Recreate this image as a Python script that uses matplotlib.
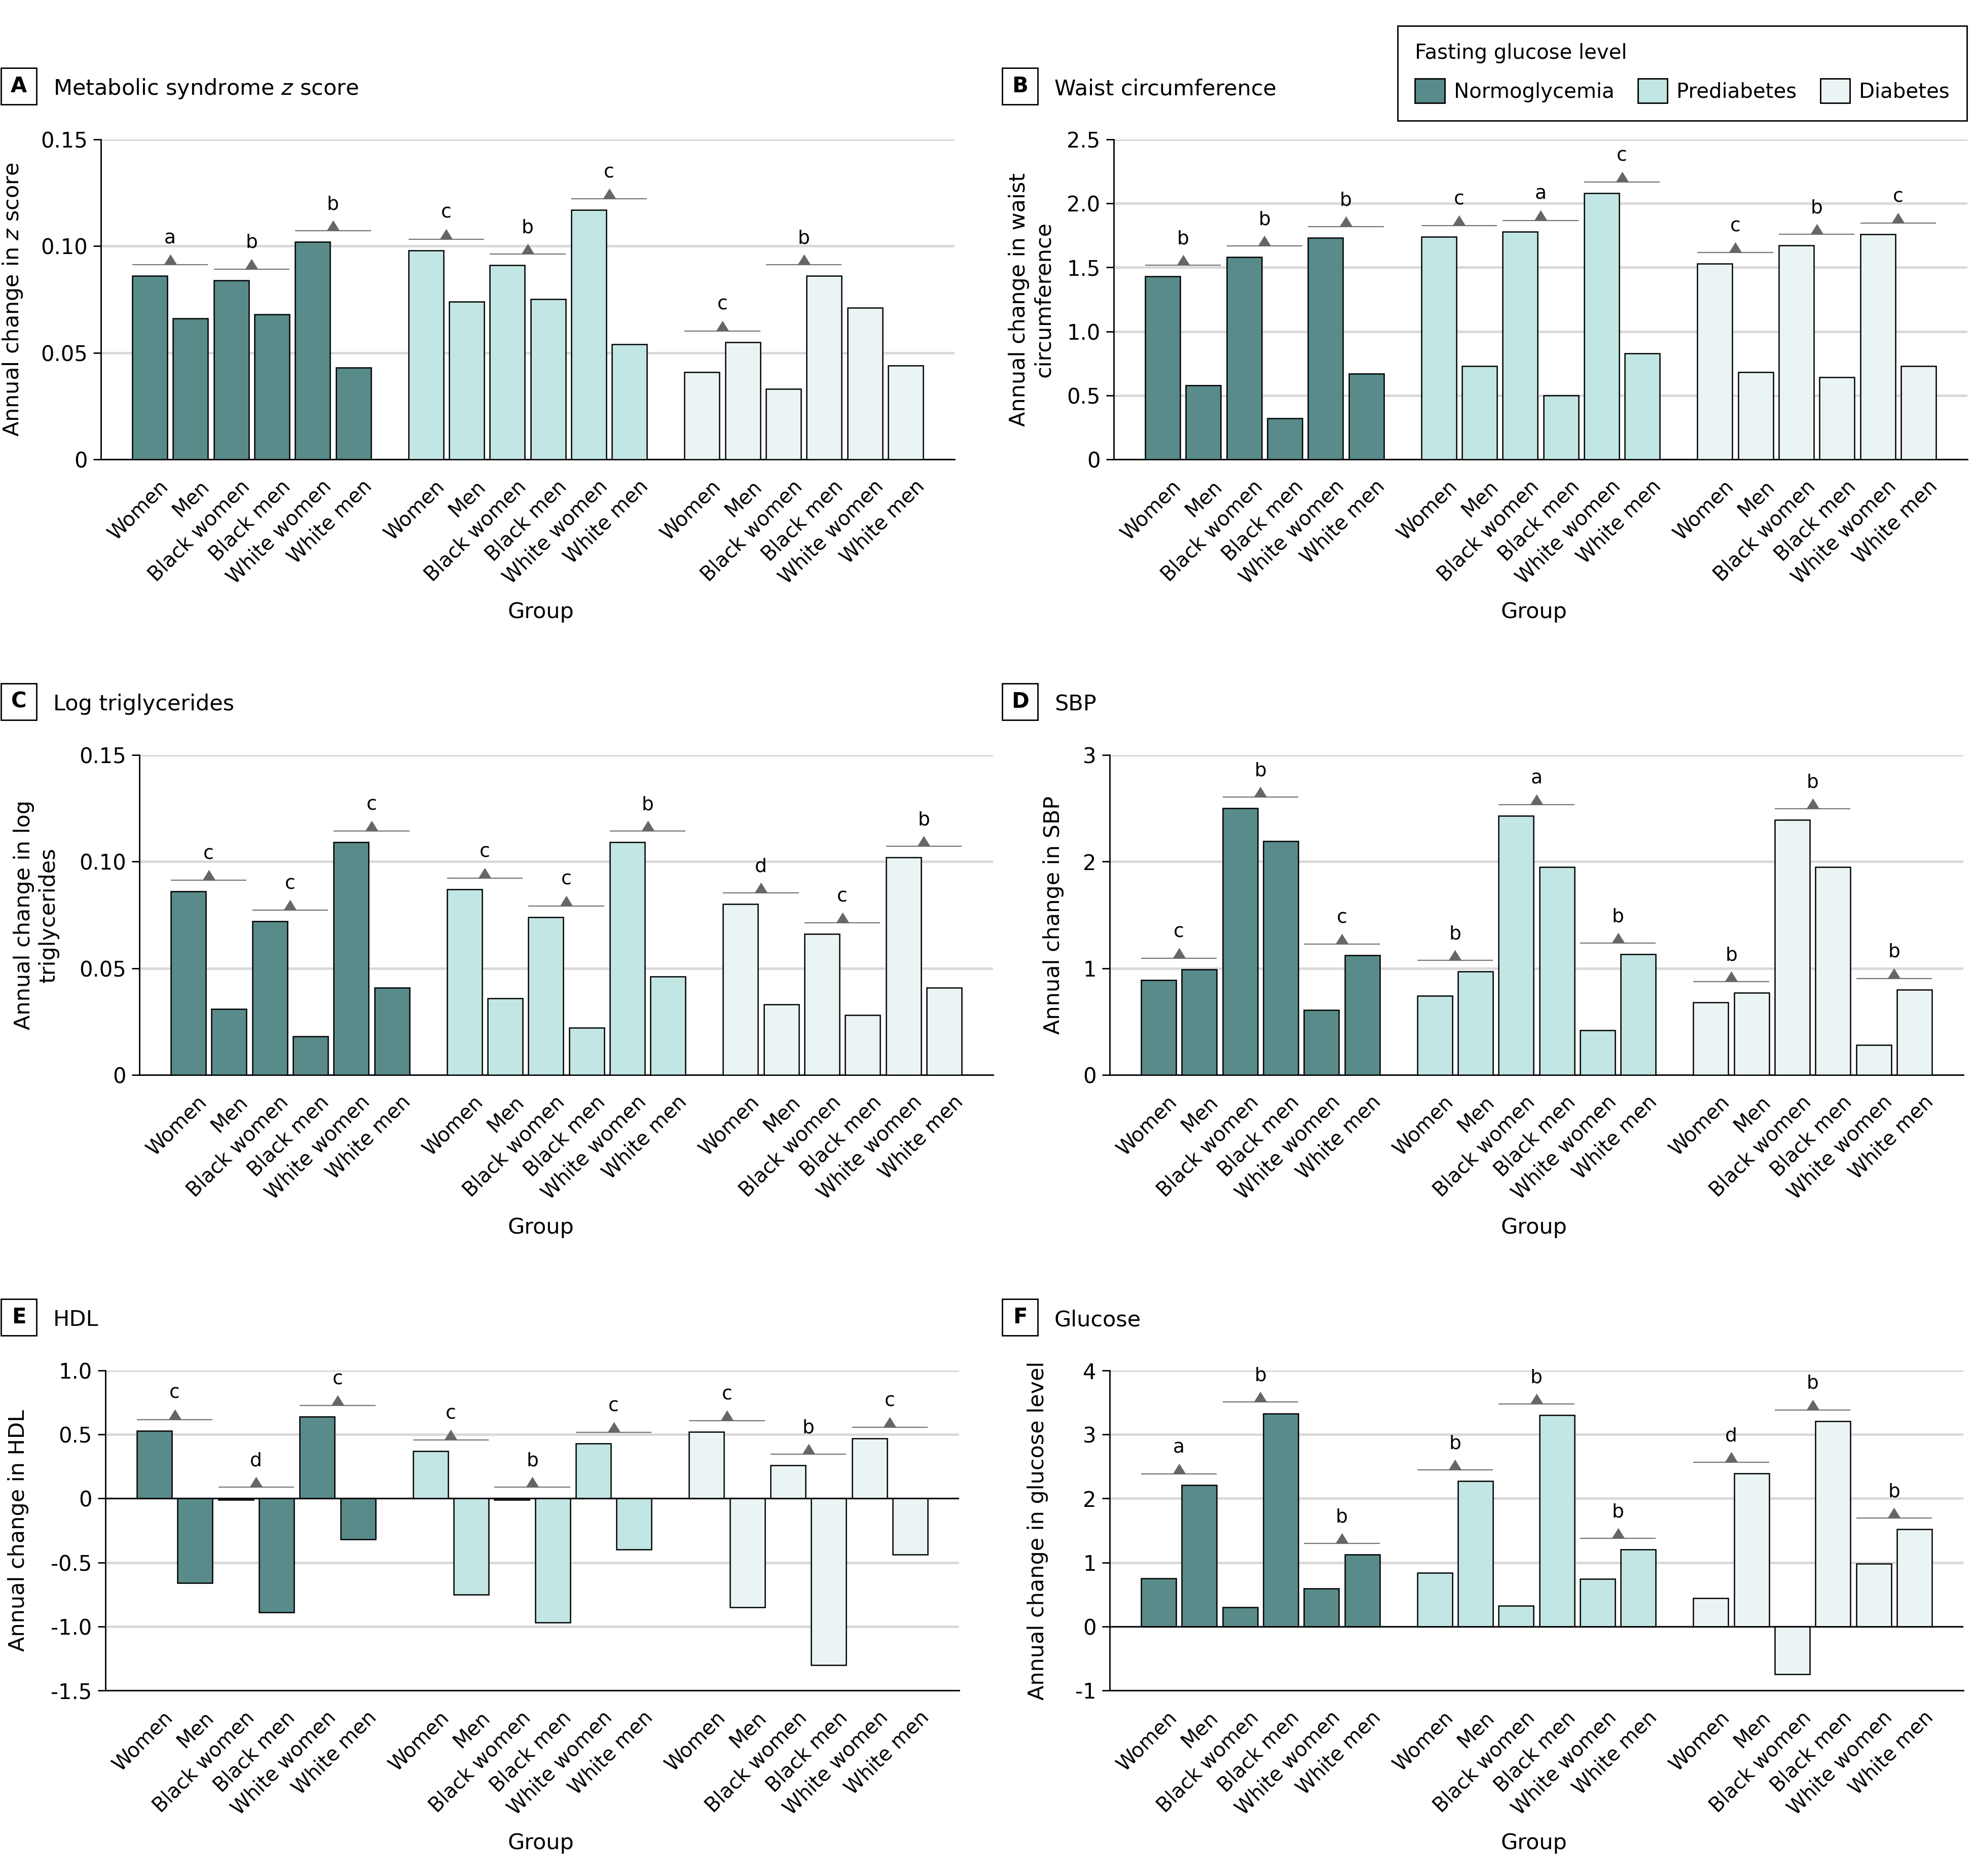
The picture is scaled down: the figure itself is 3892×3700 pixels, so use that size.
import matplotlib
matplotlib.use('Agg')
import matplotlib.pyplot as plt
from matplotlib.patches import Patch, Rectangle
from matplotlib.path import Path
from matplotlib.transforms import ScaledTranslation
import numpy as np

plt.rcParams['font.family'] = ['DejaVu Sans']

groups = ['Women', 'Men', 'Black women', 'Black men', 'White women', 'White men']
levels = ['Normoglycemia', 'Prediabetes', 'Diabetes']
level_colors = ['#588b89', '#c1e6e4', '#eaf4f4']

# annual change, one row per fasting glucose level, one column per group
zscore = [[0.086, 0.066, 0.084, 0.068, 0.102, 0.043],
          [0.098, 0.074, 0.091, 0.075, 0.117, 0.054],
          [0.041, 0.055, 0.033, 0.086, 0.071, 0.044]]
zscore_sig = [['a', 'b', 'b'], ['c', 'b', 'c'], ['c', 'b', None]]
zscore_ticks = [0, 0.05, 0.10, 0.15]
zscore_ticklabels = ['0', '0.05', '0.10', '0.15']

waist = [[1.43, 0.58, 1.58, 0.32, 1.73, 0.67],
         [1.74, 0.73, 1.78, 0.50, 2.08, 0.83],
         [1.53, 0.68, 1.67, 0.64, 1.76, 0.73]]
waist_sig = [['b', 'b', 'b'], ['c', 'a', 'c'], ['c', 'b', 'c']]
waist_ticks = [0, 0.5, 1.0, 1.5, 2.0, 2.5]
waist_ticklabels = ['0', '0.5', '1.0', '1.5', '2.0', '2.5']

logtg = [[0.086, 0.031, 0.072, 0.018, 0.109, 0.041],
         [0.087, 0.036, 0.074, 0.022, 0.109, 0.046],
         [0.080, 0.033, 0.066, 0.028, 0.102, 0.041]]
logtg_sig = [['c', 'c', 'c'], ['c', 'c', 'b'], ['d', 'c', 'b']]
logtg_ticks = [0, 0.05, 0.10, 0.15]
logtg_ticklabels = ['0', '0.05', '0.10', '0.15']

sbp = [[0.89, 0.99, 2.50, 2.19, 0.61, 1.12],
       [0.74, 0.97, 2.43, 1.95, 0.42, 1.13],
       [0.68, 0.77, 2.39, 1.95, 0.28, 0.80]]
sbp_sig = [['c', 'b', 'c'], ['b', 'a', 'b'], ['b', 'b', 'b']]
sbp_ticks = [0, 1, 2, 3]
sbp_ticklabels = ['0', '1', '2', '3']

hdl = [[0.53, -0.66, -0.01, -0.89, 0.64, -0.32],
       [0.37, -0.75, -0.01, -0.97, 0.43, -0.40],
       [0.52, -0.85, 0.26, -1.30, 0.47, -0.44]]
hdl_sig = [['c', 'd', 'c'], ['c', 'b', 'c'], ['c', 'b', 'c']]
hdl_ticks = [-1.5, -1.0, -0.5, 0, 0.5, 1.0]
hdl_ticklabels = ['-1.5', '-1.0', '-0.5', '0', '0.5', '1.0']

glucose = [[0.75, 2.21, 0.30, 3.33, 0.59, 1.12],
           [0.84, 2.27, 0.32, 3.30, 0.74, 1.20],
           [0.44, 2.39, -0.75, 3.21, 0.98, 1.52]]
glucose_sig = [['a', 'b', 'b'], ['b', 'b', 'b'], ['d', 'b', 'b']]
glucose_ticks = [-1, 0, 1, 2, 3, 4]
glucose_ticklabels = ['-1', '0', '1', '2', '3', '4']

W, H = 3892, 3700
AX_W, AX_H = 1684, 631
fig = plt.figure(figsize=(W / 100, H / 100), dpi=100)

stride = len(groups) + 0.78
bar_w = 0.86
tri = Path([(-1.24, 0), (1.24, 0), (0, 2), (-1.24, 0)],
           [Path.MOVETO, Path.LINETO, Path.LINETO, Path.CLOSEPOLY])

# letter, title, ylabel, values, significance, ticks, ticklabels, axes left/top px, ylabel x offset px, row, col
panels = [
    ('A', 'Metabolic syndrome $z$ score', 'Annual change in $z$ score',
     zscore, zscore_sig, zscore_ticks, zscore_ticklabels, 199, 275, -151, 0, 0),
    ('B', 'Waist circumference', 'Annual change in waist\ncircumference',
     waist, waist_sig, waist_ticks, waist_ticklabels, 2197, 275, -117, 0, 1),
    ('C', 'Log triglycerides', 'Annual change in log\ntriglycerides',
     logtg, logtg_sig, logtg_ticks, logtg_ticklabels, 275, 1489, -158, 1, 0),
    ('D', 'SBP', 'Annual change in SBP',
     sbp, sbp_sig, sbp_ticks, sbp_ticklabels, 2189, 1489, -90, 1, 1),
    ('E', 'HDL', 'Annual change in HDL',
     hdl, hdl_sig, hdl_ticks, hdl_ticklabels, 208, 2703, -151, 2, 0),
    ('F', 'Glucose', 'Annual change in glucose level',
     glucose, glucose_sig, glucose_ticks, glucose_ticklabels, 2189, 2703, -121, 2, 1),
]
group_label_x = [1067, 3026]   # figure px, per column

shift = ScaledTranslation(12 / 72, 0, fig.dpi_scale_trans)

for letter, title, ylabel, vals, sig, ticks, ticklabels, left, top, ylab_x, row, col in panels:
    ax = fig.add_axes([left / W, 1 - (top + AX_H) / H, AX_W / W, AX_H / H])
    span = ticks[-1] - ticks[0]
    all_pos = []
    for g, (vrow, color) in enumerate(zip(vals, level_colors)):
        pos = g * stride + np.arange(len(groups))
        ax.bar(pos, vrow, width=bar_w, color=color, edgecolor='black',
               linewidth=1.8, zorder=3)
        all_pos.extend(pos)
        for k, lab in enumerate(sig[g]):
            if lab is None:
                continue
            i0 = 2 * k
            y = max(vrow[i0], vrow[i0 + 1], 0) + 0.035 * span
            ax.plot([pos[i0] - bar_w / 2, pos[i0 + 1] + bar_w / 2], [y, y],
                    color='#777777', lw=1.6, zorder=4, solid_capstyle='butt')
            xc = (pos[i0] + pos[i0 + 1]) / 2
            ax.plot([xc], [y], marker=tri, ms=30, color='#666666',
                    markeredgewidth=0, zorder=5)
            ax.annotate(lab, (xc, y), xytext=(0, 30), textcoords='offset points',
                        ha='center', va='baseline', fontsize=27)

    if ticks[0] < 0:
        ax.axhline(0, color='black', lw=2, zorder=4)

    ax.set_xlim(-1.2, all_pos[-1] + 1.2)
    ax.set_ylim(ticks[0], ticks[-1])
    ax.set_yticks(ticks, ticklabels)
    ax.set_xticks(all_pos, groups * len(levels), rotation=45, ha='right',
                  va='top', rotation_mode='anchor')
    ax.tick_params(axis='y', length=11, width=2, pad=8, labelsize=30)
    ax.tick_params(axis='x', length=0, pad=24, labelsize=28.5)
    for t in ax.get_xticklabels():
        t.set_transform(t.get_transform() + shift)

    ax.yaxis.grid(True, color='#d9d9d9', lw=3.5)
    ax.set_axisbelow(True)
    for s in ['top', 'right']:
        ax.spines[s].set_visible(False)
    for s in ['left', 'bottom']:
        ax.spines[s].set_linewidth(2)

    ax.set_ylabel(ylabel, fontsize=31)
    ax.yaxis.set_label_coords(ylab_x / AX_W, 0.5)
    ax.set_xlabel('Group', fontsize=31)
    ax.xaxis.set_label_coords((group_label_x[col] - left) / AX_W, -280 / AX_H)

    # panel heading: boxed letter + title
    base = row * 1214
    bx = 2 if col == 0 else 1977
    fig.add_artist(Rectangle((bx / W, 1 - (206 + base) / H), 70 / W, 72 / H,
                             transform=fig.transFigure, facecolor='white',
                             edgecolor='black', lw=2))
    fig.text((bx + 35) / W, 1 - (170 + base) / H, letter, ha='center',
             va='center', fontsize=30, fontweight='bold')
    fig.text((bx + 103) / W, 1 - (187 + base) / H, title, ha='left',
             va='baseline', fontsize=31)

handles = [Patch(facecolor=c, edgecolor='black', linewidth=2, label=l)
           for c, l in zip(level_colors, levels)]
leg = fig.legend(handles=handles, loc='upper right',
                 bbox_to_anchor=(3880 / W, 1 - 51 / H), ncol=3,
                 title='Fasting glucose level', title_fontsize=29, fontsize=29,
                 alignment='left', frameon=True, fancybox=False,
                 edgecolor='black', framealpha=1, handlelength=1.45,
                 handleheight=1.45, handletextpad=0.45, columnspacing=1.15,
                 borderpad=0.85, labelspacing=0.75, borderaxespad=0)
leg.get_frame().set_linewidth(2)

fig.savefig('out.png', dpi=100)
